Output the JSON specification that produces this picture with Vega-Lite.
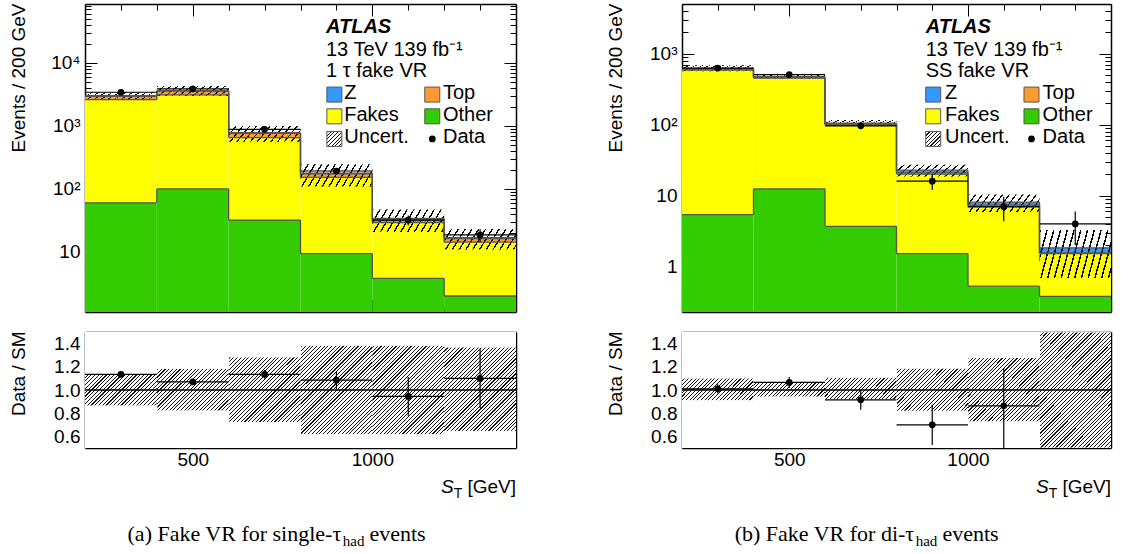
{
"$schema": "https://vega.github.io/schema/vega-lite/v6.json",
"padding": {"left": 8, "top": -5, "right": 5, "bottom": 2},
"background": "white",
"datasets": {
"stackL": [
{"x0":200,"x1":400,"comp":"Other","k":1,"n":60},{"x0":200,"x1":400,"comp":"Fakes","k":2,"n":2550},{"x0":200,"x1":400,"comp":"Top","k":3,"n":330},{"x0":200,"x1":400,"comp":"Z","k":4,"n":60},
{"x0":400,"x1":600,"comp":"Other","k":1,"n":100},{"x0":400,"x1":600,"comp":"Fakes","k":2,"n":3000},{"x0":400,"x1":600,"comp":"Top","k":3,"n":450},{"x0":400,"x1":600,"comp":"Z","k":4,"n":60},
{"x0":600,"x1":800,"comp":"Other","k":1,"n":32},{"x0":600,"x1":800,"comp":"Fakes","k":2,"n":620},{"x0":600,"x1":800,"comp":"Top","k":3,"n":105},{"x0":600,"x1":800,"comp":"Z","k":4,"n":19},
{"x0":800,"x1":1000,"comp":"Other","k":1,"n":9.4},{"x0":800,"x1":1000,"comp":"Fakes","k":2,"n":143},{"x0":800,"x1":1000,"comp":"Top","k":3,"n":20},{"x0":800,"x1":1000,"comp":"Z","k":4,"n":4.6},
{"x0":1000,"x1":1200,"comp":"Other","k":1,"n":3.8},{"x0":1000,"x1":1200,"comp":"Fakes","k":2,"n":25.5},{"x0":1000,"x1":1200,"comp":"Top","k":3,"n":3.2},{"x0":1000,"x1":1200,"comp":"Z","k":4,"n":1.4},
{"x0":1200,"x1":1400,"comp":"Other","k":1,"n":2.0},{"x0":1200,"x1":1400,"comp":"Fakes","k":2,"n":12.3},{"x0":1200,"x1":1400,"comp":"Top","k":3,"n":2.0},{"x0":1200,"x1":1400,"comp":"Z","k":4,"n":0.6}
],
"stackR": [
{"x0":200,"x1":400,"comp":"Other","k":1,"n":5.4},{"x0":200,"x1":400,"comp":"Fakes","k":2,"n":585},{"x0":200,"x1":400,"comp":"Top","k":3,"n":20},{"x0":200,"x1":400,"comp":"Z","k":4,"n":12.6},
{"x0":400,"x1":600,"comp":"Other","k":1,"n":12.5},{"x0":400,"x1":600,"comp":"Fakes","k":2,"n":440},{"x0":400,"x1":600,"comp":"Top","k":3,"n":12},{"x0":400,"x1":600,"comp":"Z","k":4,"n":12.5},
{"x0":600,"x1":800,"comp":"Other","k":1,"n":3.7},{"x0":600,"x1":800,"comp":"Fakes","k":2,"n":95},{"x0":600,"x1":800,"comp":"Top","k":3,"n":3.5},{"x0":600,"x1":800,"comp":"Z","k":4,"n":2.8},
{"x0":800,"x1":1000,"comp":"Other","k":1,"n":1.53},{"x0":800,"x1":1000,"comp":"Fakes","k":2,"n":18.6},{"x0":800,"x1":1000,"comp":"Top","k":3,"n":0.8},{"x0":800,"x1":1000,"comp":"Z","k":4,"n":1.97},
{"x0":1000,"x1":1200,"comp":"Other","k":1,"n":0.53},{"x0":1000,"x1":1200,"comp":"Fakes","k":2,"n":6.42},{"x0":1000,"x1":1200,"comp":"Top","k":3,"n":0.4},{"x0":1000,"x1":1200,"comp":"Z","k":4,"n":0.75},
{"x0":1200,"x1":1400,"comp":"Other","k":1,"n":0.38},{"x0":1200,"x1":1400,"comp":"Fakes","k":2,"n":1.15},{"x0":1200,"x1":1400,"comp":"Top","k":3,"n":0.03},{"x0":1200,"x1":1400,"comp":"Z","k":4,"n":0.28}
],
"binsL": [
{"x0":200,"x1":400,"x":300,"blo":2589,"bhi":3411,"d":3405,"dlo":3347,"dhi":3463,"r":1.135,"rlo":1.116,"rhi":1.154,"rblo":0.863,"rbhi":1.137},
{"x0":400,"x1":600,"x":500,"blo":2960,"bhi":4281,"d":3863,"dlo":3801,"dhi":3925,"r":1.07,"rlo":1.053,"rhi":1.087,"rblo":0.82,"rbhi":1.186},
{"x0":600,"x1":800,"x":700,"blo":559,"bhi":997,"d":881,"dlo":851,"dhi":911,"r":1.135,"rlo":1.097,"rhi":1.173,"rblo":0.72,"rbhi":1.285},
{"x0":800,"x1":1000,"x":900,"blo":108.9,"bhi":245.1,"d":192,"dlo":178,"dhi":206,"r":1.085,"rlo":1.007,"rhi":1.163,"rblo":0.615,"rbhi":1.385},
{"x0":1000,"x1":1200,"x":1100,"blo":20.8,"bhi":46.9,"d":32.0,"dlo":26.3,"dhi":37.7,"r":0.945,"rlo":0.778,"rhi":1.112,"rblo":0.615,"rbhi":1.385},
{"x0":1200,"x1":1400,"x":1300,"blo":10.9,"bhi":23.2,"d":18.6,"dlo":14.3,"dhi":22.9,"r":1.10,"rlo":0.845,"rhi":1.355,"rblo":0.643,"rbhi":1.37}
],
"binsR": [
{"x0":200,"x1":400,"x":300,"blo":565.7,"bhi":687.2,"d":629,"dlo":604,"dhi":654,"r":1.01,"rlo":0.97,"rhi":1.05,"rblo":0.908,"rbhi":1.103},
{"x0":400,"x1":600,"x":500,"blo":448.4,"bhi":512.8,"d":508,"dlo":485.5,"dhi":530.5,"r":1.065,"rlo":1.018,"rhi":1.112,"rblo":0.94,"rbhi":1.075},
{"x0":600,"x1":800,"x":700,"blo":96.3,"bhi":116.4,"d":96.5,"dlo":86.7,"dhi":106.3,"r":0.915,"rlo":0.83,"rhi":1.0,"rblo":0.917,"rbhi":1.109},
{"x0":800,"x1":1000,"x":900,"blo":18.7,"bhi":27.2,"d":16,"dlo":12,"dhi":20,"r":0.70,"rlo":0.525,"rhi":0.875,"rblo":0.817,"rbhi":1.188},
{"x0":1000,"x1":1200,"x":1100,"blo":5.88,"bhi":10.37,"d":7,"dlo":4.35,"dhi":9.65,"r":0.864,"rlo":0.45,"rhi":1.19,"rblo":0.726,"rbhi":1.28},
{"x0":1200,"x1":1400,"x":1300,"blo":0.69,"bhi":3.28,"d":4,"dlo":2,"dhi":6,"r":null,"rlo":null,"rhi":null,"rblo":0.375,"rbhi":1.78}
]
},
"bounds": "flush",
"columns": 2,
"spacing": {"row": 20, "column": 166},
"concat": [
{"width": 431, "height": 308,
 "resolve": {"axis": {"x": "independent", "y": "independent"}},
 "layer": [
  {"data": {"name": "stackL"},
   "transform": [{"stack": "n", "groupby": ["x0"], "sort": [{"field": "k", "order": "ascending"}], "as": ["lo", "hi"]}],
   "mark": {"type": "rect", "clip": true},
   "encoding": {
    "x": {"field": "x0", "type": "quantitative", "scale": {"domain": [200, 1400], "nice": false, "zero": false},
      "axis": {"orient": "bottom", "values": [300,400,500,600,700,800,900,1000,1100,1200,1300], "labels": false, "title": null, "tickSize": {"condition": {"test": "datum.value == 500 || datum.value == 1000", "value": -12}, "value": -6}}},
    "x2": {"field": "x1"},
    "y": {"field": "hi", "type": "quantitative", "scale": {"type": "log", "domain": [1.116, 85460], "nice": false, "clamp": true},
      "axis": {"orient": "left", "values": [2,3,4,5,6,7,8,9,10,20,30,40,50,60,70,80,90,100,200,300,400,500,600,700,800,900,1000,2000,3000,4000,5000,6000,7000,8000,9000,10000,20000,30000,40000,50000,60000,70000,80000],
        "title": "Events / 200 GeV", "titleAnchor": "end", "titleAlign": "right", "titleY": -1, "titlePadding": 17, "minExtent": 40, "maxExtent": 40, "labelPadding": 17,
        "labelExpr": "datum.value == 10 ? '10' : datum.value == 100 ? '10²' : datum.value == 1000 ? '10³' : datum.value == 10000 ? '10⁴' : ''",
        "tickSize": {"condition": {"test": "datum.value == 10 || datum.value == 100 || datum.value == 1000 || datum.value == 10000", "value": -12}, "value": -6}}},
    "y2": {"field": "lo"},
    "fill": {"field": "comp", "type": "nominal", "scale": {"domain": ["Z", "Top", "Fakes", "Other"], "range": ["#3399ff", "#ff9933", "#ffff00", "#33cc00"]}, "legend": null}
   }},
  {"data": {"name": "binsL"},
   "mark": {"type": "rect", "clip": true, "fill": {"gradient": "linear", "x1": 0, "y1": 0, "x2": 1.144, "y2": 0.207, "stops": [
{"offset":0,"color":"#000"},{"offset":0.018,"color":"#000"},{"offset":0.018,"color":"rgba(0,0,0,0)"},{"offset":0.08,"color":"rgba(0,0,0,0)"},
{"offset":0.08,"color":"#000"},{"offset":0.098,"color":"#000"},{"offset":0.098,"color":"rgba(0,0,0,0)"},{"offset":0.16,"color":"rgba(0,0,0,0)"},
{"offset":0.16,"color":"#000"},{"offset":0.178,"color":"#000"},{"offset":0.178,"color":"rgba(0,0,0,0)"},{"offset":0.24,"color":"rgba(0,0,0,0)"},
{"offset":0.24,"color":"#000"},{"offset":0.258,"color":"#000"},{"offset":0.258,"color":"rgba(0,0,0,0)"},{"offset":0.32,"color":"rgba(0,0,0,0)"},
{"offset":0.32,"color":"#000"},{"offset":0.338,"color":"#000"},{"offset":0.338,"color":"rgba(0,0,0,0)"},{"offset":0.4,"color":"rgba(0,0,0,0)"},
{"offset":0.4,"color":"#000"},{"offset":0.418,"color":"#000"},{"offset":0.418,"color":"rgba(0,0,0,0)"},{"offset":0.48,"color":"rgba(0,0,0,0)"},
{"offset":0.48,"color":"#000"},{"offset":0.498,"color":"#000"},{"offset":0.498,"color":"rgba(0,0,0,0)"},{"offset":0.56,"color":"rgba(0,0,0,0)"},
{"offset":0.56,"color":"#000"},{"offset":0.578,"color":"#000"},{"offset":0.578,"color":"rgba(0,0,0,0)"},{"offset":0.64,"color":"rgba(0,0,0,0)"},
{"offset":0.64,"color":"#000"},{"offset":0.658,"color":"#000"},{"offset":0.658,"color":"rgba(0,0,0,0)"},{"offset":0.72,"color":"rgba(0,0,0,0)"},
{"offset":0.72,"color":"#000"},{"offset":0.738,"color":"#000"},{"offset":0.738,"color":"rgba(0,0,0,0)"},{"offset":0.8,"color":"rgba(0,0,0,0)"},
{"offset":0.8,"color":"#000"},{"offset":0.818,"color":"#000"},{"offset":0.818,"color":"rgba(0,0,0,0)"},{"offset":0.88,"color":"rgba(0,0,0,0)"},
{"offset":0.88,"color":"#000"},{"offset":0.898,"color":"#000"},{"offset":0.898,"color":"rgba(0,0,0,0)"},{"offset":0.96,"color":"rgba(0,0,0,0)"},
{"offset":0.96,"color":"#000"},{"offset":0.978,"color":"#000"},{"offset":0.978,"color":"rgba(0,0,0,0)"},{"offset":1,"color":"rgba(0,0,0,0)"}
   ]}},
   "encoding": {
    "x": {"field": "x0", "type": "quantitative", "axis": {"orient": "top", "values": [300,400,500,600,700,800,900,1000,1100,1200,1300], "labels": false, "title": null, "tickSize": {"condition": {"test": "datum.value == 500 || datum.value == 1000", "value": -12}, "value": -6}}},
    "x2": {"field": "x1"},
    "y": {"field": "bhi", "type": "quantitative", "axis": {"orient": "right", "values": [2,3,4,5,6,7,8,9,10,20,30,40,50,60,70,80,90,100,200,300,400,500,600,700,800,900,1000,2000,3000,4000,5000,6000,7000,8000,9000,10000,20000,30000,40000,50000,60000,70000,80000], "labels": false, "title": null,
        "tickSize": {"condition": {"test": "datum.value == 10 || datum.value == 100 || datum.value == 1000 || datum.value == 10000", "value": -12}, "value": -6}}},
    "y2": {"field": "blo"}
   }},
  {"data": {"name": "stackL"},
   "transform": [{"stack": "n", "groupby": ["x0"], "sort": [{"field": "k", "order": "ascending"}], "as": ["lo", "hi"]}],
   "mark": {"type": "rule", "color": "#555", "strokeWidth": 1.3, "clip": true},
   "encoding": {"x": {"field": "x0", "type": "quantitative", "axis": null}, "x2": {"field": "x1"}, "y": {"field": "hi", "type": "quantitative", "axis": null}}},
  {"data": {"name": "stackL"},
   "transform": [{"stack": "n", "groupby": ["x0"], "sort": [{"field": "k", "order": "ascending"}], "as": ["lo", "hi"]},
     {"window": [{"op": "lead", "field": "hi", "as": "nhi"}], "groupby": ["comp"], "sort": [{"field": "x0", "order": "ascending"}]},
     {"filter": "datum.nhi != null"}],
   "mark": {"type": "rule", "color": "#555", "strokeWidth": 1.3, "clip": true},
   "encoding": {"x": {"field": "x1", "type": "quantitative", "axis": null}, "y": {"field": "hi", "type": "quantitative", "axis": null}, "y2": {"field": "nhi"}}},
  {"data": {"name": "binsL"}, "mark": {"type": "rule", "color": "#000", "strokeWidth": 1.2},
   "encoding": {"x": {"field": "x0", "type": "quantitative", "axis": null}, "x2": {"field": "x1"}, "y": {"field": "d", "type": "quantitative", "axis": null}}},
  {"data": {"name": "binsL"}, "mark": {"type": "rule", "color": "#000", "strokeWidth": 1.2},
   "encoding": {"x": {"field": "x", "type": "quantitative", "axis": null}, "y": {"field": "dlo", "type": "quantitative", "axis": null}, "y2": {"field": "dhi"}}},
  {"data": {"name": "binsL"}, "mark": {"type": "point", "filled": true, "shape": "circle", "size": 45, "color": "#000", "opacity": 1},
   "encoding": {"x": {"field": "x", "type": "quantitative", "axis": null}, "y": {"field": "d", "type": "quantitative", "axis": null}}},
  {"data": {"values": [{}]}, "mark": {"type": "text", "text": "ATLAS", "font": "Liberation Sans", "fontSize": 20, "fontWeight": "bold", "fontStyle": "italic", "align": "left", "baseline": "alphabetic", "color": "#000"},
   "encoding": {"x": {"datum": 871, "type": "quantitative", "axis": null}, "y": {"datum": 29600, "type": "quantitative", "axis": null}}},
  {"data": {"values": [{}]}, "mark": {"type": "text", "text": "13 TeV 139 fb⁻¹\n1 τ fake VR", "lineBreak": "\n", "lineHeight": 21, "font": "Liberation Sans", "fontSize": 20, "align": "left", "baseline": "alphabetic", "color": "#000"},
   "encoding": {"x": {"datum": 871, "type": "quantitative", "axis": null}, "y": {"datum": 12770, "type": "quantitative", "axis": null}}},
  {"data": {"values": [{}]}, "mark": {"type": "text", "text": "Z\nFakes\nUncert.", "lineBreak": "\n", "lineHeight": 22, "font": "Liberation Sans", "fontSize": 20, "align": "left", "baseline": "alphabetic", "color": "#000"},
   "encoding": {"x": {"datum": 921.9, "type": "quantitative", "axis": null}, "y": {"datum": 2624, "type": "quantitative", "axis": null}}},
  {"data": {"values": [{}]}, "mark": {"type": "text", "text": "Top\nOther\nData", "lineBreak": "\n", "lineHeight": 22, "font": "Liberation Sans", "fontSize": 20, "align": "left", "baseline": "alphabetic", "color": "#000"},
   "encoding": {"x": {"datum": 1196.7, "type": "quantitative", "axis": null}, "y": {"datum": 2624, "type": "quantitative", "axis": null}}},
  {"data": {"values": [{}]}, "mark": {"type": "point", "shape": "square", "size": 225, "filled": true, "fill": "#3399ff", "stroke": "#555", "strokeWidth": 1, "opacity": 1},
   "encoding": {"x": {"datum": 894.3, "type": "quantitative", "axis": null}, "y": {"datum": 3128, "type": "quantitative", "axis": null}}},
  {"data": {"values": [{}]}, "mark": {"type": "point", "shape": "square", "size": 225, "filled": true, "fill": "#ff9933", "stroke": "#555", "strokeWidth": 1, "opacity": 1},
   "encoding": {"x": {"datum": 1166.9, "type": "quantitative", "axis": null}, "y": {"datum": 3128, "type": "quantitative", "axis": null}}},
  {"data": {"values": [{}]}, "mark": {"type": "point", "shape": "square", "size": 225, "filled": true, "fill": "#ffff00", "stroke": "#555", "strokeWidth": 1, "opacity": 1},
   "encoding": {"x": {"datum": 894.3, "type": "quantitative", "axis": null}, "y": {"datum": 1415, "type": "quantitative", "axis": null}}},
  {"data": {"values": [{}]}, "mark": {"type": "point", "shape": "square", "size": 225, "filled": true, "fill": "#33cc00", "stroke": "#555", "strokeWidth": 1, "opacity": 1},
   "encoding": {"x": {"datum": 1166.9, "type": "quantitative", "axis": null}, "y": {"datum": 1415, "type": "quantitative", "axis": null}}},
  {"data": {"values": [{}]}, "mark": {"type": "point", "shape": "square", "size": 225, "filled": true, "stroke": "#555", "strokeWidth": 1, "opacity": 1, "fill": {"gradient": "linear", "x1": 0, "y1": 0, "x2": 1, "y2": 1, "stops": [
{"offset":0,"color":"#111"},{"offset":0.04,"color":"#111"},{"offset":0.04,"color":"#fff"},{"offset":0.125,"color":"#fff"},
{"offset":0.125,"color":"#111"},{"offset":0.165,"color":"#111"},{"offset":0.165,"color":"#fff"},{"offset":0.25,"color":"#fff"},
{"offset":0.25,"color":"#111"},{"offset":0.29,"color":"#111"},{"offset":0.29,"color":"#fff"},{"offset":0.375,"color":"#fff"},
{"offset":0.375,"color":"#111"},{"offset":0.415,"color":"#111"},{"offset":0.415,"color":"#fff"},{"offset":0.5,"color":"#fff"},
{"offset":0.5,"color":"#111"},{"offset":0.54,"color":"#111"},{"offset":0.54,"color":"#fff"},{"offset":0.625,"color":"#fff"},
{"offset":0.625,"color":"#111"},{"offset":0.665,"color":"#111"},{"offset":0.665,"color":"#fff"},{"offset":0.75,"color":"#fff"},
{"offset":0.75,"color":"#111"},{"offset":0.79,"color":"#111"},{"offset":0.79,"color":"#fff"},{"offset":0.875,"color":"#fff"},
{"offset":0.875,"color":"#111"},{"offset":0.915,"color":"#111"},{"offset":0.915,"color":"#fff"},{"offset":1,"color":"#fff"}
   ]}},
   "encoding": {"x": {"datum": 894.3, "type": "quantitative", "axis": null}, "y": {"datum": 620, "type": "quantitative", "axis": null}}},
  {"data": {"values": [{}]}, "mark": {"type": "point", "shape": "circle", "size": 45, "filled": true, "color": "#000", "opacity": 1},
   "encoding": {"x": {"datum": 1166.9, "type": "quantitative", "axis": null}, "y": {"datum": 620, "type": "quantitative", "axis": null}}}
 ]},
{"width": 429, "height": 308,
 "resolve": {"axis": {"x": "independent", "y": "independent"}},
 "layer": [
  {"data": {"name": "stackR"},
   "transform": [{"stack": "n", "groupby": ["x0"], "sort": [{"field": "k", "order": "ascending"}], "as": ["lo", "hi"]}],
   "mark": {"type": "rect", "clip": true},
   "encoding": {
    "x": {"field": "x0", "type": "quantitative", "scale": {"domain": [200, 1400], "nice": false, "zero": false},
      "axis": {"orient": "bottom", "values": [300,400,500,600,700,800,900,1000,1100,1200,1300], "labels": false, "title": null, "tickSize": {"condition": {"test": "datum.value == 500 || datum.value == 1000", "value": -12}, "value": -6}}},
    "x2": {"field": "x1"},
    "y": {"field": "hi", "type": "quantitative", "scale": {"type": "log", "domain": [0.2296, 5023], "nice": false, "clamp": true},
      "axis": {"orient": "left", "values": [0.3,0.4,0.5,0.6,0.7,0.8,0.9,1,2,3,4,5,6,7,8,9,10,20,30,40,50,60,70,80,90,100,200,300,400,500,600,700,800,900,1000,2000,3000,4000,5000],
        "title": "Events / 200 GeV", "titleAnchor": "end", "titleAlign": "right", "titleY": -1, "titlePadding": 17, "minExtent": 40, "maxExtent": 40, "labelPadding": 17,
        "labelExpr": "datum.value == 1 ? '1' : datum.value == 10 ? '10' : datum.value == 100 ? '10²' : datum.value == 1000 ? '10³' : ''",
        "tickSize": {"condition": {"test": "datum.value == 1 || datum.value == 10 || datum.value == 100 || datum.value == 1000", "value": -12}, "value": -6}}},
    "y2": {"field": "lo"},
    "fill": {"field": "comp", "type": "nominal", "scale": {"domain": ["Z", "Top", "Fakes", "Other"], "range": ["#3399ff", "#ff9933", "#ffff00", "#33cc00"]}, "legend": null}
   }},
  {"data": {"name": "binsR"},
   "mark": {"type": "rect", "clip": true, "fill": {"gradient": "linear", "x1": 0, "y1": 0, "x2": 1.144, "y2": 0.207, "stops": [
{"offset":0,"color":"#000"},{"offset":0.018,"color":"#000"},{"offset":0.018,"color":"rgba(0,0,0,0)"},{"offset":0.08,"color":"rgba(0,0,0,0)"},
{"offset":0.08,"color":"#000"},{"offset":0.098,"color":"#000"},{"offset":0.098,"color":"rgba(0,0,0,0)"},{"offset":0.16,"color":"rgba(0,0,0,0)"},
{"offset":0.16,"color":"#000"},{"offset":0.178,"color":"#000"},{"offset":0.178,"color":"rgba(0,0,0,0)"},{"offset":0.24,"color":"rgba(0,0,0,0)"},
{"offset":0.24,"color":"#000"},{"offset":0.258,"color":"#000"},{"offset":0.258,"color":"rgba(0,0,0,0)"},{"offset":0.32,"color":"rgba(0,0,0,0)"},
{"offset":0.32,"color":"#000"},{"offset":0.338,"color":"#000"},{"offset":0.338,"color":"rgba(0,0,0,0)"},{"offset":0.4,"color":"rgba(0,0,0,0)"},
{"offset":0.4,"color":"#000"},{"offset":0.418,"color":"#000"},{"offset":0.418,"color":"rgba(0,0,0,0)"},{"offset":0.48,"color":"rgba(0,0,0,0)"},
{"offset":0.48,"color":"#000"},{"offset":0.498,"color":"#000"},{"offset":0.498,"color":"rgba(0,0,0,0)"},{"offset":0.56,"color":"rgba(0,0,0,0)"},
{"offset":0.56,"color":"#000"},{"offset":0.578,"color":"#000"},{"offset":0.578,"color":"rgba(0,0,0,0)"},{"offset":0.64,"color":"rgba(0,0,0,0)"},
{"offset":0.64,"color":"#000"},{"offset":0.658,"color":"#000"},{"offset":0.658,"color":"rgba(0,0,0,0)"},{"offset":0.72,"color":"rgba(0,0,0,0)"},
{"offset":0.72,"color":"#000"},{"offset":0.738,"color":"#000"},{"offset":0.738,"color":"rgba(0,0,0,0)"},{"offset":0.8,"color":"rgba(0,0,0,0)"},
{"offset":0.8,"color":"#000"},{"offset":0.818,"color":"#000"},{"offset":0.818,"color":"rgba(0,0,0,0)"},{"offset":0.88,"color":"rgba(0,0,0,0)"},
{"offset":0.88,"color":"#000"},{"offset":0.898,"color":"#000"},{"offset":0.898,"color":"rgba(0,0,0,0)"},{"offset":0.96,"color":"rgba(0,0,0,0)"},
{"offset":0.96,"color":"#000"},{"offset":0.978,"color":"#000"},{"offset":0.978,"color":"rgba(0,0,0,0)"},{"offset":1,"color":"rgba(0,0,0,0)"}
   ]}},
   "encoding": {
    "x": {"field": "x0", "type": "quantitative", "axis": {"orient": "top", "values": [300,400,500,600,700,800,900,1000,1100,1200,1300], "labels": false, "title": null, "tickSize": {"condition": {"test": "datum.value == 500 || datum.value == 1000", "value": -12}, "value": -6}}},
    "x2": {"field": "x1"},
    "y": {"field": "bhi", "type": "quantitative", "axis": {"orient": "right", "values": [0.3,0.4,0.5,0.6,0.7,0.8,0.9,1,2,3,4,5,6,7,8,9,10,20,30,40,50,60,70,80,90,100,200,300,400,500,600,700,800,900,1000,2000,3000,4000,5000], "labels": false, "title": null,
        "tickSize": {"condition": {"test": "datum.value == 1 || datum.value == 10 || datum.value == 100 || datum.value == 1000", "value": -12}, "value": -6}}},
    "y2": {"field": "blo"}
   }},
  {"data": {"name": "stackR"},
   "transform": [{"stack": "n", "groupby": ["x0"], "sort": [{"field": "k", "order": "ascending"}], "as": ["lo", "hi"]}],
   "mark": {"type": "rule", "color": "#555", "strokeWidth": 1.3, "clip": true},
   "encoding": {"x": {"field": "x0", "type": "quantitative", "axis": null}, "x2": {"field": "x1"}, "y": {"field": "hi", "type": "quantitative", "axis": null}}},
  {"data": {"name": "stackR"},
   "transform": [{"stack": "n", "groupby": ["x0"], "sort": [{"field": "k", "order": "ascending"}], "as": ["lo", "hi"]},
     {"window": [{"op": "lead", "field": "hi", "as": "nhi"}], "groupby": ["comp"], "sort": [{"field": "x0", "order": "ascending"}]},
     {"filter": "datum.nhi != null"}],
   "mark": {"type": "rule", "color": "#555", "strokeWidth": 1.3, "clip": true},
   "encoding": {"x": {"field": "x1", "type": "quantitative", "axis": null}, "y": {"field": "hi", "type": "quantitative", "axis": null}, "y2": {"field": "nhi"}}},
  {"data": {"name": "binsR"}, "mark": {"type": "rule", "color": "#000", "strokeWidth": 1.2},
   "encoding": {"x": {"field": "x0", "type": "quantitative", "axis": null}, "x2": {"field": "x1"}, "y": {"field": "d", "type": "quantitative", "axis": null}}},
  {"data": {"name": "binsR"}, "mark": {"type": "rule", "color": "#000", "strokeWidth": 1.2},
   "encoding": {"x": {"field": "x", "type": "quantitative", "axis": null}, "y": {"field": "dlo", "type": "quantitative", "axis": null}, "y2": {"field": "dhi"}}},
  {"data": {"name": "binsR"}, "mark": {"type": "point", "filled": true, "shape": "circle", "size": 45, "color": "#000", "opacity": 1},
   "encoding": {"x": {"field": "x", "type": "quantitative", "axis": null}, "y": {"field": "d", "type": "quantitative", "axis": null}}},
  {"data": {"values": [{}]}, "mark": {"type": "text", "text": "ATLAS", "font": "Liberation Sans", "fontSize": 20, "fontWeight": "bold", "fontStyle": "italic", "align": "left", "baseline": "alphabetic", "color": "#000"},
   "encoding": {"x": {"datum": 881.7, "type": "quantitative", "axis": null}, "y": {"datum": 1959, "type": "quantitative", "axis": null}}},
  {"data": {"values": [{}]}, "mark": {"type": "text", "text": "13 TeV 139 fb⁻¹\nSS fake VR", "lineBreak": "\n", "lineHeight": 21, "font": "Liberation Sans", "fontSize": 20, "align": "left", "baseline": "alphabetic", "color": "#000"},
   "encoding": {"x": {"datum": 881.7, "type": "quantitative", "axis": null}, "y": {"datum": 928, "type": "quantitative", "axis": null}}},
  {"data": {"values": [{}]}, "mark": {"type": "text", "text": "Z\nFakes\nUncert.", "lineBreak": "\n", "lineHeight": 22, "font": "Liberation Sans", "fontSize": 20, "align": "left", "baseline": "alphabetic", "color": "#000"},
   "encoding": {"x": {"datum": 935.7, "type": "quantitative", "axis": null}, "y": {"datum": 227.4, "type": "quantitative", "axis": null}}},
  {"data": {"values": [{}]}, "mark": {"type": "text", "text": "Top\nOther\nData", "lineBreak": "\n", "lineHeight": 22, "font": "Liberation Sans", "fontSize": 20, "align": "left", "baseline": "alphabetic", "color": "#000"},
   "encoding": {"x": {"datum": 1208.7, "type": "quantitative", "axis": null}, "y": {"datum": 227.4, "type": "quantitative", "axis": null}}},
  {"data": {"values": [{}]}, "mark": {"type": "point", "shape": "square", "size": 225, "filled": true, "fill": "#3399ff", "stroke": "#555", "strokeWidth": 1, "opacity": 1},
   "encoding": {"x": {"datum": 902.7, "type": "quantitative", "axis": null}, "y": {"datum": 265.8, "type": "quantitative", "axis": null}}},
  {"data": {"values": [{}]}, "mark": {"type": "point", "shape": "square", "size": 225, "filled": true, "fill": "#ff9933", "stroke": "#555", "strokeWidth": 1, "opacity": 1},
   "encoding": {"x": {"datum": 1177.6, "type": "quantitative", "axis": null}, "y": {"datum": 265.8, "type": "quantitative", "axis": null}}},
  {"data": {"values": [{}]}, "mark": {"type": "point", "shape": "square", "size": 225, "filled": true, "fill": "#ffff00", "stroke": "#555", "strokeWidth": 1, "opacity": 1},
   "encoding": {"x": {"datum": 902.7, "type": "quantitative", "axis": null}, "y": {"datum": 131.4, "type": "quantitative", "axis": null}}},
  {"data": {"values": [{}]}, "mark": {"type": "point", "shape": "square", "size": 225, "filled": true, "fill": "#33cc00", "stroke": "#555", "strokeWidth": 1, "opacity": 1},
   "encoding": {"x": {"datum": 1177.6, "type": "quantitative", "axis": null}, "y": {"datum": 131.4, "type": "quantitative", "axis": null}}},
  {"data": {"values": [{}]}, "mark": {"type": "point", "shape": "square", "size": 225, "filled": true, "stroke": "#555", "strokeWidth": 1, "opacity": 1, "fill": {"gradient": "linear", "x1": 0, "y1": 0, "x2": 1, "y2": 1, "stops": [
{"offset":0,"color":"#111"},{"offset":0.04,"color":"#111"},{"offset":0.04,"color":"#fff"},{"offset":0.125,"color":"#fff"},
{"offset":0.125,"color":"#111"},{"offset":0.165,"color":"#111"},{"offset":0.165,"color":"#fff"},{"offset":0.25,"color":"#fff"},
{"offset":0.25,"color":"#111"},{"offset":0.29,"color":"#111"},{"offset":0.29,"color":"#fff"},{"offset":0.375,"color":"#fff"},
{"offset":0.375,"color":"#111"},{"offset":0.415,"color":"#111"},{"offset":0.415,"color":"#fff"},{"offset":0.5,"color":"#fff"},
{"offset":0.5,"color":"#111"},{"offset":0.54,"color":"#111"},{"offset":0.54,"color":"#fff"},{"offset":0.625,"color":"#fff"},
{"offset":0.625,"color":"#111"},{"offset":0.665,"color":"#111"},{"offset":0.665,"color":"#fff"},{"offset":0.75,"color":"#fff"},
{"offset":0.75,"color":"#111"},{"offset":0.79,"color":"#111"},{"offset":0.79,"color":"#fff"},{"offset":0.875,"color":"#fff"},
{"offset":0.875,"color":"#111"},{"offset":0.915,"color":"#111"},{"offset":0.915,"color":"#fff"},{"offset":1,"color":"#fff"}
   ]}},
   "encoding": {"x": {"datum": 902.7, "type": "quantitative", "axis": null}, "y": {"datum": 63.05, "type": "quantitative", "axis": null}}},
  {"data": {"values": [{}]}, "mark": {"type": "point", "shape": "circle", "size": 45, "filled": true, "color": "#000", "opacity": 1},
   "encoding": {"x": {"datum": 1177.6, "type": "quantitative", "axis": null}, "y": {"datum": 63.05, "type": "quantitative", "axis": null}}}
 ]},
{"width": 431, "height": 116,
 "resolve": {"axis": {"x": "independent", "y": "independent"}},
 "layer": [
  {"data": {"name": "binsL"}, "mark": {"type": "rect", "fill": {"gradient": "linear", "x1": 0, "y1": 0, "x2": 0.725, "y2": 1.171, "stops": [
{"offset":0,"color":"#111"},{"offset":0.006,"color":"#111"},{"offset":0.006,"color":"#fff"},{"offset":0.02,"color":"#fff"},
{"offset":0.02,"color":"#111"},{"offset":0.026,"color":"#111"},{"offset":0.026,"color":"#fff"},{"offset":0.04,"color":"#fff"},
{"offset":0.04,"color":"#111"},{"offset":0.046,"color":"#111"},{"offset":0.046,"color":"#fff"},{"offset":0.06,"color":"#fff"},
{"offset":0.06,"color":"#111"},{"offset":0.066,"color":"#111"},{"offset":0.066,"color":"#fff"},{"offset":0.08,"color":"#fff"},
{"offset":0.08,"color":"#111"},{"offset":0.086,"color":"#111"},{"offset":0.086,"color":"#fff"},{"offset":0.1,"color":"#fff"},
{"offset":0.1,"color":"#111"},{"offset":0.106,"color":"#111"},{"offset":0.106,"color":"#fff"},{"offset":0.12,"color":"#fff"},
{"offset":0.12,"color":"#111"},{"offset":0.126,"color":"#111"},{"offset":0.126,"color":"#fff"},{"offset":0.14,"color":"#fff"},
{"offset":0.14,"color":"#111"},{"offset":0.146,"color":"#111"},{"offset":0.146,"color":"#fff"},{"offset":0.16,"color":"#fff"},
{"offset":0.16,"color":"#111"},{"offset":0.166,"color":"#111"},{"offset":0.166,"color":"#fff"},{"offset":0.18,"color":"#fff"},
{"offset":0.18,"color":"#111"},{"offset":0.186,"color":"#111"},{"offset":0.186,"color":"#fff"},{"offset":0.2,"color":"#fff"},
{"offset":0.2,"color":"#111"},{"offset":0.206,"color":"#111"},{"offset":0.206,"color":"#fff"},{"offset":0.22,"color":"#fff"},
{"offset":0.22,"color":"#111"},{"offset":0.226,"color":"#111"},{"offset":0.226,"color":"#fff"},{"offset":0.24,"color":"#fff"},
{"offset":0.24,"color":"#111"},{"offset":0.246,"color":"#111"},{"offset":0.246,"color":"#fff"},{"offset":0.26,"color":"#fff"},
{"offset":0.26,"color":"#111"},{"offset":0.266,"color":"#111"},{"offset":0.266,"color":"#fff"},{"offset":0.28,"color":"#fff"},
{"offset":0.28,"color":"#111"},{"offset":0.286,"color":"#111"},{"offset":0.286,"color":"#fff"},{"offset":0.3,"color":"#fff"},
{"offset":0.3,"color":"#111"},{"offset":0.306,"color":"#111"},{"offset":0.306,"color":"#fff"},{"offset":0.32,"color":"#fff"},
{"offset":0.32,"color":"#111"},{"offset":0.326,"color":"#111"},{"offset":0.326,"color":"#fff"},{"offset":0.34,"color":"#fff"},
{"offset":0.34,"color":"#111"},{"offset":0.346,"color":"#111"},{"offset":0.346,"color":"#fff"},{"offset":0.36,"color":"#fff"},
{"offset":0.36,"color":"#111"},{"offset":0.366,"color":"#111"},{"offset":0.366,"color":"#fff"},{"offset":0.38,"color":"#fff"},
{"offset":0.38,"color":"#111"},{"offset":0.386,"color":"#111"},{"offset":0.386,"color":"#fff"},{"offset":0.4,"color":"#fff"},
{"offset":0.4,"color":"#111"},{"offset":0.406,"color":"#111"},{"offset":0.406,"color":"#fff"},{"offset":0.42,"color":"#fff"},
{"offset":0.42,"color":"#111"},{"offset":0.426,"color":"#111"},{"offset":0.426,"color":"#fff"},{"offset":0.44,"color":"#fff"},
{"offset":0.44,"color":"#111"},{"offset":0.446,"color":"#111"},{"offset":0.446,"color":"#fff"},{"offset":0.46,"color":"#fff"},
{"offset":0.46,"color":"#111"},{"offset":0.466,"color":"#111"},{"offset":0.466,"color":"#fff"},{"offset":0.48,"color":"#fff"},
{"offset":0.48,"color":"#111"},{"offset":0.486,"color":"#111"},{"offset":0.486,"color":"#fff"},{"offset":0.5,"color":"#fff"},
{"offset":0.5,"color":"#111"},{"offset":0.506,"color":"#111"},{"offset":0.506,"color":"#fff"},{"offset":0.52,"color":"#fff"},
{"offset":0.52,"color":"#111"},{"offset":0.526,"color":"#111"},{"offset":0.526,"color":"#fff"},{"offset":0.54,"color":"#fff"},
{"offset":0.54,"color":"#111"},{"offset":0.546,"color":"#111"},{"offset":0.546,"color":"#fff"},{"offset":0.56,"color":"#fff"},
{"offset":0.56,"color":"#111"},{"offset":0.566,"color":"#111"},{"offset":0.566,"color":"#fff"},{"offset":0.58,"color":"#fff"},
{"offset":0.58,"color":"#111"},{"offset":0.586,"color":"#111"},{"offset":0.586,"color":"#fff"},{"offset":0.6,"color":"#fff"},
{"offset":0.6,"color":"#111"},{"offset":0.606,"color":"#111"},{"offset":0.606,"color":"#fff"},{"offset":0.62,"color":"#fff"},
{"offset":0.62,"color":"#111"},{"offset":0.626,"color":"#111"},{"offset":0.626,"color":"#fff"},{"offset":0.64,"color":"#fff"},
{"offset":0.64,"color":"#111"},{"offset":0.646,"color":"#111"},{"offset":0.646,"color":"#fff"},{"offset":0.66,"color":"#fff"},
{"offset":0.66,"color":"#111"},{"offset":0.666,"color":"#111"},{"offset":0.666,"color":"#fff"},{"offset":0.68,"color":"#fff"},
{"offset":0.68,"color":"#111"},{"offset":0.686,"color":"#111"},{"offset":0.686,"color":"#fff"},{"offset":0.7,"color":"#fff"},
{"offset":0.7,"color":"#111"},{"offset":0.706,"color":"#111"},{"offset":0.706,"color":"#fff"},{"offset":0.72,"color":"#fff"},
{"offset":0.72,"color":"#111"},{"offset":0.726,"color":"#111"},{"offset":0.726,"color":"#fff"},{"offset":0.74,"color":"#fff"},
{"offset":0.74,"color":"#111"},{"offset":0.746,"color":"#111"},{"offset":0.746,"color":"#fff"},{"offset":0.76,"color":"#fff"},
{"offset":0.76,"color":"#111"},{"offset":0.766,"color":"#111"},{"offset":0.766,"color":"#fff"},{"offset":0.78,"color":"#fff"},
{"offset":0.78,"color":"#111"},{"offset":0.786,"color":"#111"},{"offset":0.786,"color":"#fff"},{"offset":0.8,"color":"#fff"},
{"offset":0.8,"color":"#111"},{"offset":0.806,"color":"#111"},{"offset":0.806,"color":"#fff"},{"offset":0.82,"color":"#fff"},
{"offset":0.82,"color":"#111"},{"offset":0.826,"color":"#111"},{"offset":0.826,"color":"#fff"},{"offset":0.84,"color":"#fff"},
{"offset":0.84,"color":"#111"},{"offset":0.846,"color":"#111"},{"offset":0.846,"color":"#fff"},{"offset":0.86,"color":"#fff"},
{"offset":0.86,"color":"#111"},{"offset":0.866,"color":"#111"},{"offset":0.866,"color":"#fff"},{"offset":0.88,"color":"#fff"},
{"offset":0.88,"color":"#111"},{"offset":0.886,"color":"#111"},{"offset":0.886,"color":"#fff"},{"offset":0.9,"color":"#fff"},
{"offset":0.9,"color":"#111"},{"offset":0.906,"color":"#111"},{"offset":0.906,"color":"#fff"},{"offset":0.92,"color":"#fff"},
{"offset":0.92,"color":"#111"},{"offset":0.926,"color":"#111"},{"offset":0.926,"color":"#fff"},{"offset":0.94,"color":"#fff"},
{"offset":0.94,"color":"#111"},{"offset":0.946,"color":"#111"},{"offset":0.946,"color":"#fff"},{"offset":0.96,"color":"#fff"},
{"offset":0.96,"color":"#111"},{"offset":0.966,"color":"#111"},{"offset":0.966,"color":"#fff"},{"offset":0.98,"color":"#fff"},
{"offset":0.98,"color":"#111"},{"offset":0.986,"color":"#111"},{"offset":0.986,"color":"#fff"},{"offset":1,"color":"#fff"}
   ]}},
   "encoding": {
    "x": {"field": "x0", "type": "quantitative", "scale": {"domain": [200, 1400], "nice": false, "zero": false},
      "axis": {"orient": "bottom", "values": [300,400,500,600,700,800,900,1000,1100,1200,1300], "format": "d", "title": null, "labelPadding": 10, "labelExpr": "datum.value == 500 || datum.value == 1000 ? datum.label : ''", "tickSize": {"condition": {"test": "datum.value == 500 || datum.value == 1000", "value": -8}, "value": -4}}},
    "x2": {"field": "x1"},
    "y": {"datum": 0.5, "type": "quantitative", "scale": {"domain": [0.5, 1.5], "nice": false, "zero": false},
      "axis": {"orient": "left", "values": [0.55,0.6,0.65,0.7,0.75,0.8,0.85,0.9,0.95,1,1.05,1.1,1.15,1.2,1.25,1.3,1.35,1.4,1.45], "title": "Data / SM", "titleAnchor": "end", "titleAlign": "right", "titleY": -1, "titlePadding": 17, "minExtent": 40, "maxExtent": 40, "labelPadding": 15,
        "labelExpr": "indexof([0.6,0.8,1,1.2,1.4], datum.value) >= 0 ? format(datum.value, '.1f') : ''",
        "tickSize": {"condition": {"test": "indexof([0.6,0.8,1,1.2,1.4], datum.value) >= 0", "value": -10}, "value": -5}}},
    "y2": {"datum": 1.5}
   }},
  {"data": {"name": "binsL"}, "mark": {"type": "rect", "fill": "#fff", "stroke": "#fff", "strokeWidth": 1, "clip": true},
   "encoding": {
    "x": {"field": "x0", "type": "quantitative", "axis": {"orient": "top", "values": [300,400,500,600,700,800,900,1000,1100,1200,1300], "labels": false, "title": null, "tickSize": {"condition": {"test": "datum.value == 500 || datum.value == 1000", "value": -8}, "value": -4}}},
    "x2": {"field": "x1"},
    "y": {"field": "rbhi", "type": "quantitative", "axis": {"orient": "right", "values": [0.55,0.6,0.65,0.7,0.75,0.8,0.85,0.9,0.95,1,1.05,1.1,1.15,1.2,1.25,1.3,1.35,1.4,1.45], "labels": false, "title": null, "tickSize": {"condition": {"test": "indexof([0.6,0.8,1,1.2,1.4], datum.value) >= 0", "value": -10}, "value": -5}}},
    "y2": {"datum": 1.5}
   }},
  {"data": {"name": "binsL"}, "mark": {"type": "rect", "fill": "#fff", "stroke": "#fff", "strokeWidth": 1, "clip": true},
   "encoding": {"x": {"field": "x0", "type": "quantitative", "axis": null}, "x2": {"field": "x1"}, "y": {"field": "rblo", "type": "quantitative", "axis": null}, "y2": {"datum": 0.5}}},
  {"data": {"values": [{}]}, "mark": {"type": "rule", "color": "#000", "strokeWidth": 1.3},
   "encoding": {"y": {"datum": 1, "type": "quantitative", "axis": null}}},
  {"data": {"name": "binsL"}, "transform": [{"filter": "datum.r != null"}], "mark": {"type": "rule", "color": "#000", "strokeWidth": 1.2, "clip": true},
   "encoding": {"x": {"field": "x0", "type": "quantitative", "axis": null}, "x2": {"field": "x1"}, "y": {"field": "r", "type": "quantitative", "axis": null}}},
  {"data": {"name": "binsL"}, "transform": [{"filter": "datum.r != null"}], "mark": {"type": "rule", "color": "#000", "strokeWidth": 1.2, "clip": true},
   "encoding": {"x": {"field": "x", "type": "quantitative", "axis": null}, "y": {"field": "rlo", "type": "quantitative", "axis": null}, "y2": {"field": "rhi"}}},
  {"data": {"name": "binsL"}, "transform": [{"filter": "datum.r != null"}], "mark": {"type": "point", "filled": true, "shape": "circle", "size": 45, "color": "#000", "opacity": 1},
   "encoding": {"x": {"field": "x", "type": "quantitative", "axis": null}, "y": {"field": "r", "type": "quantitative", "axis": null}}},
  {"data": {"values": [{}]}, "mark": {"type": "text", "text": "S", "font": "Liberation Sans", "fontSize": 19, "fontStyle": "italic", "align": "right", "baseline": "alphabetic", "color": "#000"},
   "encoding": {"x": {"datum": 1226.7, "type": "quantitative", "axis": null}, "y": {"datum": 0.116, "type": "quantitative", "axis": null}}},
  {"data": {"values": [{}]}, "mark": {"type": "text", "text": "T", "font": "Liberation Sans", "fontSize": 14, "align": "right", "baseline": "alphabetic", "dy": 5, "color": "#000"},
   "encoding": {"x": {"datum": 1250.7, "type": "quantitative", "axis": null}, "y": {"datum": 0.116, "type": "quantitative", "axis": null}}},
  {"data": {"values": [{}]}, "mark": {"type": "text", "text": "[GeV]", "font": "Liberation Sans", "fontSize": 19, "align": "right", "baseline": "alphabetic", "color": "#000"},
   "encoding": {"x": {"datum": 1400, "type": "quantitative", "axis": null}, "y": {"datum": 0.116, "type": "quantitative", "axis": null}}},
  {"data": {"values": [{}]}, "mark": {"type": "text", "text": "(a) Fake VR for single-τ", "font": "Liberation Serif", "fontSize": 22, "align": "right", "baseline": "alphabetic", "color": "#000"},
   "encoding": {"x": {"datum": 913.5, "type": "quantitative", "axis": null}, "y": {"datum": -0.3, "type": "quantitative", "axis": null}}},
  {"data": {"values": [{}]}, "mark": {"type": "text", "text": "had", "font": "Liberation Serif", "fontSize": 15, "align": "left", "baseline": "alphabetic", "dy": 5, "color": "#000"},
   "encoding": {"x": {"datum": 917.7, "type": "quantitative", "axis": null}, "y": {"datum": -0.3, "type": "quantitative", "axis": null}}},
  {"data": {"values": [{}]}, "mark": {"type": "text", "text": "events", "font": "Liberation Serif", "fontSize": 22, "align": "left", "baseline": "alphabetic", "color": "#000"},
   "encoding": {"x": {"datum": 992, "type": "quantitative", "axis": null}, "y": {"datum": -0.3, "type": "quantitative", "axis": null}}}
 ]},
{"width": 429, "height": 116,
 "resolve": {"axis": {"x": "independent", "y": "independent"}},
 "layer": [
  {"data": {"name": "binsR"}, "mark": {"type": "rect", "fill": {"gradient": "linear", "x1": 0, "y1": 0, "x2": 0.725, "y2": 1.171, "stops": [
{"offset":0,"color":"#111"},{"offset":0.006,"color":"#111"},{"offset":0.006,"color":"#fff"},{"offset":0.02,"color":"#fff"},
{"offset":0.02,"color":"#111"},{"offset":0.026,"color":"#111"},{"offset":0.026,"color":"#fff"},{"offset":0.04,"color":"#fff"},
{"offset":0.04,"color":"#111"},{"offset":0.046,"color":"#111"},{"offset":0.046,"color":"#fff"},{"offset":0.06,"color":"#fff"},
{"offset":0.06,"color":"#111"},{"offset":0.066,"color":"#111"},{"offset":0.066,"color":"#fff"},{"offset":0.08,"color":"#fff"},
{"offset":0.08,"color":"#111"},{"offset":0.086,"color":"#111"},{"offset":0.086,"color":"#fff"},{"offset":0.1,"color":"#fff"},
{"offset":0.1,"color":"#111"},{"offset":0.106,"color":"#111"},{"offset":0.106,"color":"#fff"},{"offset":0.12,"color":"#fff"},
{"offset":0.12,"color":"#111"},{"offset":0.126,"color":"#111"},{"offset":0.126,"color":"#fff"},{"offset":0.14,"color":"#fff"},
{"offset":0.14,"color":"#111"},{"offset":0.146,"color":"#111"},{"offset":0.146,"color":"#fff"},{"offset":0.16,"color":"#fff"},
{"offset":0.16,"color":"#111"},{"offset":0.166,"color":"#111"},{"offset":0.166,"color":"#fff"},{"offset":0.18,"color":"#fff"},
{"offset":0.18,"color":"#111"},{"offset":0.186,"color":"#111"},{"offset":0.186,"color":"#fff"},{"offset":0.2,"color":"#fff"},
{"offset":0.2,"color":"#111"},{"offset":0.206,"color":"#111"},{"offset":0.206,"color":"#fff"},{"offset":0.22,"color":"#fff"},
{"offset":0.22,"color":"#111"},{"offset":0.226,"color":"#111"},{"offset":0.226,"color":"#fff"},{"offset":0.24,"color":"#fff"},
{"offset":0.24,"color":"#111"},{"offset":0.246,"color":"#111"},{"offset":0.246,"color":"#fff"},{"offset":0.26,"color":"#fff"},
{"offset":0.26,"color":"#111"},{"offset":0.266,"color":"#111"},{"offset":0.266,"color":"#fff"},{"offset":0.28,"color":"#fff"},
{"offset":0.28,"color":"#111"},{"offset":0.286,"color":"#111"},{"offset":0.286,"color":"#fff"},{"offset":0.3,"color":"#fff"},
{"offset":0.3,"color":"#111"},{"offset":0.306,"color":"#111"},{"offset":0.306,"color":"#fff"},{"offset":0.32,"color":"#fff"},
{"offset":0.32,"color":"#111"},{"offset":0.326,"color":"#111"},{"offset":0.326,"color":"#fff"},{"offset":0.34,"color":"#fff"},
{"offset":0.34,"color":"#111"},{"offset":0.346,"color":"#111"},{"offset":0.346,"color":"#fff"},{"offset":0.36,"color":"#fff"},
{"offset":0.36,"color":"#111"},{"offset":0.366,"color":"#111"},{"offset":0.366,"color":"#fff"},{"offset":0.38,"color":"#fff"},
{"offset":0.38,"color":"#111"},{"offset":0.386,"color":"#111"},{"offset":0.386,"color":"#fff"},{"offset":0.4,"color":"#fff"},
{"offset":0.4,"color":"#111"},{"offset":0.406,"color":"#111"},{"offset":0.406,"color":"#fff"},{"offset":0.42,"color":"#fff"},
{"offset":0.42,"color":"#111"},{"offset":0.426,"color":"#111"},{"offset":0.426,"color":"#fff"},{"offset":0.44,"color":"#fff"},
{"offset":0.44,"color":"#111"},{"offset":0.446,"color":"#111"},{"offset":0.446,"color":"#fff"},{"offset":0.46,"color":"#fff"},
{"offset":0.46,"color":"#111"},{"offset":0.466,"color":"#111"},{"offset":0.466,"color":"#fff"},{"offset":0.48,"color":"#fff"},
{"offset":0.48,"color":"#111"},{"offset":0.486,"color":"#111"},{"offset":0.486,"color":"#fff"},{"offset":0.5,"color":"#fff"},
{"offset":0.5,"color":"#111"},{"offset":0.506,"color":"#111"},{"offset":0.506,"color":"#fff"},{"offset":0.52,"color":"#fff"},
{"offset":0.52,"color":"#111"},{"offset":0.526,"color":"#111"},{"offset":0.526,"color":"#fff"},{"offset":0.54,"color":"#fff"},
{"offset":0.54,"color":"#111"},{"offset":0.546,"color":"#111"},{"offset":0.546,"color":"#fff"},{"offset":0.56,"color":"#fff"},
{"offset":0.56,"color":"#111"},{"offset":0.566,"color":"#111"},{"offset":0.566,"color":"#fff"},{"offset":0.58,"color":"#fff"},
{"offset":0.58,"color":"#111"},{"offset":0.586,"color":"#111"},{"offset":0.586,"color":"#fff"},{"offset":0.6,"color":"#fff"},
{"offset":0.6,"color":"#111"},{"offset":0.606,"color":"#111"},{"offset":0.606,"color":"#fff"},{"offset":0.62,"color":"#fff"},
{"offset":0.62,"color":"#111"},{"offset":0.626,"color":"#111"},{"offset":0.626,"color":"#fff"},{"offset":0.64,"color":"#fff"},
{"offset":0.64,"color":"#111"},{"offset":0.646,"color":"#111"},{"offset":0.646,"color":"#fff"},{"offset":0.66,"color":"#fff"},
{"offset":0.66,"color":"#111"},{"offset":0.666,"color":"#111"},{"offset":0.666,"color":"#fff"},{"offset":0.68,"color":"#fff"},
{"offset":0.68,"color":"#111"},{"offset":0.686,"color":"#111"},{"offset":0.686,"color":"#fff"},{"offset":0.7,"color":"#fff"},
{"offset":0.7,"color":"#111"},{"offset":0.706,"color":"#111"},{"offset":0.706,"color":"#fff"},{"offset":0.72,"color":"#fff"},
{"offset":0.72,"color":"#111"},{"offset":0.726,"color":"#111"},{"offset":0.726,"color":"#fff"},{"offset":0.74,"color":"#fff"},
{"offset":0.74,"color":"#111"},{"offset":0.746,"color":"#111"},{"offset":0.746,"color":"#fff"},{"offset":0.76,"color":"#fff"},
{"offset":0.76,"color":"#111"},{"offset":0.766,"color":"#111"},{"offset":0.766,"color":"#fff"},{"offset":0.78,"color":"#fff"},
{"offset":0.78,"color":"#111"},{"offset":0.786,"color":"#111"},{"offset":0.786,"color":"#fff"},{"offset":0.8,"color":"#fff"},
{"offset":0.8,"color":"#111"},{"offset":0.806,"color":"#111"},{"offset":0.806,"color":"#fff"},{"offset":0.82,"color":"#fff"},
{"offset":0.82,"color":"#111"},{"offset":0.826,"color":"#111"},{"offset":0.826,"color":"#fff"},{"offset":0.84,"color":"#fff"},
{"offset":0.84,"color":"#111"},{"offset":0.846,"color":"#111"},{"offset":0.846,"color":"#fff"},{"offset":0.86,"color":"#fff"},
{"offset":0.86,"color":"#111"},{"offset":0.866,"color":"#111"},{"offset":0.866,"color":"#fff"},{"offset":0.88,"color":"#fff"},
{"offset":0.88,"color":"#111"},{"offset":0.886,"color":"#111"},{"offset":0.886,"color":"#fff"},{"offset":0.9,"color":"#fff"},
{"offset":0.9,"color":"#111"},{"offset":0.906,"color":"#111"},{"offset":0.906,"color":"#fff"},{"offset":0.92,"color":"#fff"},
{"offset":0.92,"color":"#111"},{"offset":0.926,"color":"#111"},{"offset":0.926,"color":"#fff"},{"offset":0.94,"color":"#fff"},
{"offset":0.94,"color":"#111"},{"offset":0.946,"color":"#111"},{"offset":0.946,"color":"#fff"},{"offset":0.96,"color":"#fff"},
{"offset":0.96,"color":"#111"},{"offset":0.966,"color":"#111"},{"offset":0.966,"color":"#fff"},{"offset":0.98,"color":"#fff"},
{"offset":0.98,"color":"#111"},{"offset":0.986,"color":"#111"},{"offset":0.986,"color":"#fff"},{"offset":1,"color":"#fff"}
   ]}},
   "encoding": {
    "x": {"field": "x0", "type": "quantitative", "scale": {"domain": [200, 1400], "nice": false, "zero": false},
      "axis": {"orient": "bottom", "values": [300,400,500,600,700,800,900,1000,1100,1200,1300], "format": "d", "title": null, "labelPadding": 10, "labelExpr": "datum.value == 500 || datum.value == 1000 ? datum.label : ''", "tickSize": {"condition": {"test": "datum.value == 500 || datum.value == 1000", "value": -8}, "value": -4}}},
    "x2": {"field": "x1"},
    "y": {"datum": 0.5, "type": "quantitative", "scale": {"domain": [0.5, 1.5], "nice": false, "zero": false},
      "axis": {"orient": "left", "values": [0.55,0.6,0.65,0.7,0.75,0.8,0.85,0.9,0.95,1,1.05,1.1,1.15,1.2,1.25,1.3,1.35,1.4,1.45], "title": "Data / SM", "titleAnchor": "end", "titleAlign": "right", "titleY": -1, "titlePadding": 17, "minExtent": 40, "maxExtent": 40, "labelPadding": 15,
        "labelExpr": "indexof([0.6,0.8,1,1.2,1.4], datum.value) >= 0 ? format(datum.value, '.1f') : ''",
        "tickSize": {"condition": {"test": "indexof([0.6,0.8,1,1.2,1.4], datum.value) >= 0", "value": -10}, "value": -5}}},
    "y2": {"datum": 1.5}
   }},
  {"data": {"name": "binsR"}, "mark": {"type": "rect", "fill": "#fff", "stroke": "#fff", "strokeWidth": 1, "clip": true},
   "encoding": {
    "x": {"field": "x0", "type": "quantitative", "axis": {"orient": "top", "values": [300,400,500,600,700,800,900,1000,1100,1200,1300], "labels": false, "title": null, "tickSize": {"condition": {"test": "datum.value == 500 || datum.value == 1000", "value": -8}, "value": -4}}},
    "x2": {"field": "x1"},
    "y": {"field": "rbhi", "type": "quantitative", "axis": {"orient": "right", "values": [0.55,0.6,0.65,0.7,0.75,0.8,0.85,0.9,0.95,1,1.05,1.1,1.15,1.2,1.25,1.3,1.35,1.4,1.45], "labels": false, "title": null, "tickSize": {"condition": {"test": "indexof([0.6,0.8,1,1.2,1.4], datum.value) >= 0", "value": -10}, "value": -5}}},
    "y2": {"datum": 1.5}
   }},
  {"data": {"name": "binsR"}, "mark": {"type": "rect", "fill": "#fff", "stroke": "#fff", "strokeWidth": 1, "clip": true},
   "encoding": {"x": {"field": "x0", "type": "quantitative", "axis": null}, "x2": {"field": "x1"}, "y": {"field": "rblo", "type": "quantitative", "axis": null}, "y2": {"datum": 0.5}}},
  {"data": {"values": [{}]}, "mark": {"type": "rule", "color": "#000", "strokeWidth": 1.3},
   "encoding": {"y": {"datum": 1, "type": "quantitative", "axis": null}}},
  {"data": {"name": "binsR"}, "transform": [{"filter": "datum.r != null"}], "mark": {"type": "rule", "color": "#000", "strokeWidth": 1.2, "clip": true},
   "encoding": {"x": {"field": "x0", "type": "quantitative", "axis": null}, "x2": {"field": "x1"}, "y": {"field": "r", "type": "quantitative", "axis": null}}},
  {"data": {"name": "binsR"}, "transform": [{"filter": "datum.r != null"}], "mark": {"type": "rule", "color": "#000", "strokeWidth": 1.2, "clip": true},
   "encoding": {"x": {"field": "x", "type": "quantitative", "axis": null}, "y": {"field": "rlo", "type": "quantitative", "axis": null}, "y2": {"field": "rhi"}}},
  {"data": {"name": "binsR"}, "transform": [{"filter": "datum.r != null"}], "mark": {"type": "point", "filled": true, "shape": "circle", "size": 45, "color": "#000", "opacity": 1},
   "encoding": {"x": {"field": "x", "type": "quantitative", "axis": null}, "y": {"field": "r", "type": "quantitative", "axis": null}}},
  {"data": {"values": [{}]}, "mark": {"type": "text", "text": "S", "font": "Liberation Sans", "fontSize": 19, "fontStyle": "italic", "align": "right", "baseline": "alphabetic", "color": "#000"},
   "encoding": {"x": {"datum": 1226, "type": "quantitative", "axis": null}, "y": {"datum": 0.116, "type": "quantitative", "axis": null}}},
  {"data": {"values": [{}]}, "mark": {"type": "text", "text": "T", "font": "Liberation Sans", "fontSize": 14, "align": "right", "baseline": "alphabetic", "dy": 5, "color": "#000"},
   "encoding": {"x": {"datum": 1250, "type": "quantitative", "axis": null}, "y": {"datum": 0.116, "type": "quantitative", "axis": null}}},
  {"data": {"values": [{}]}, "mark": {"type": "text", "text": "[GeV]", "font": "Liberation Sans", "fontSize": 19, "align": "right", "baseline": "alphabetic", "color": "#000"},
   "encoding": {"x": {"datum": 1400, "type": "quantitative", "axis": null}, "y": {"datum": 0.116, "type": "quantitative", "axis": null}}},
  {"data": {"values": [{}]}, "mark": {"type": "text", "text": "(b) Fake VR for di-τ", "font": "Liberation Serif", "fontSize": 22, "align": "right", "baseline": "alphabetic", "color": "#000"},
   "encoding": {"x": {"datum": 849.5, "type": "quantitative", "axis": null}, "y": {"datum": -0.3, "type": "quantitative", "axis": null}}},
  {"data": {"values": [{}]}, "mark": {"type": "text", "text": "had", "font": "Liberation Serif", "fontSize": 15, "align": "left", "baseline": "alphabetic", "dy": 5, "color": "#000"},
   "encoding": {"x": {"datum": 853.7, "type": "quantitative", "axis": null}, "y": {"datum": -0.3, "type": "quantitative", "axis": null}}},
  {"data": {"values": [{}]}, "mark": {"type": "text", "text": "events", "font": "Liberation Serif", "fontSize": 22, "align": "left", "baseline": "alphabetic", "color": "#000"},
   "encoding": {"x": {"datum": 928.4, "type": "quantitative", "axis": null}, "y": {"datum": -0.3, "type": "quantitative", "axis": null}}}
 ]}
],
"config": {
 "view": {"stroke": null},
 "font": "Liberation Sans",
 "axis": {"labelFont": "Liberation Sans", "titleFont": "Liberation Sans", "labelFontSize": 19, "titleFontSize": 19, "titleFontWeight": "normal", "labelColor": "#000", "titleColor": "#000", "domainColor": "#000", "domainWidth": 1.5, "tickColor": "#000", "tickWidth": 1, "grid": false, "zindex": 1, "labelOverlap": false, "labelFlush": false}
}
}
